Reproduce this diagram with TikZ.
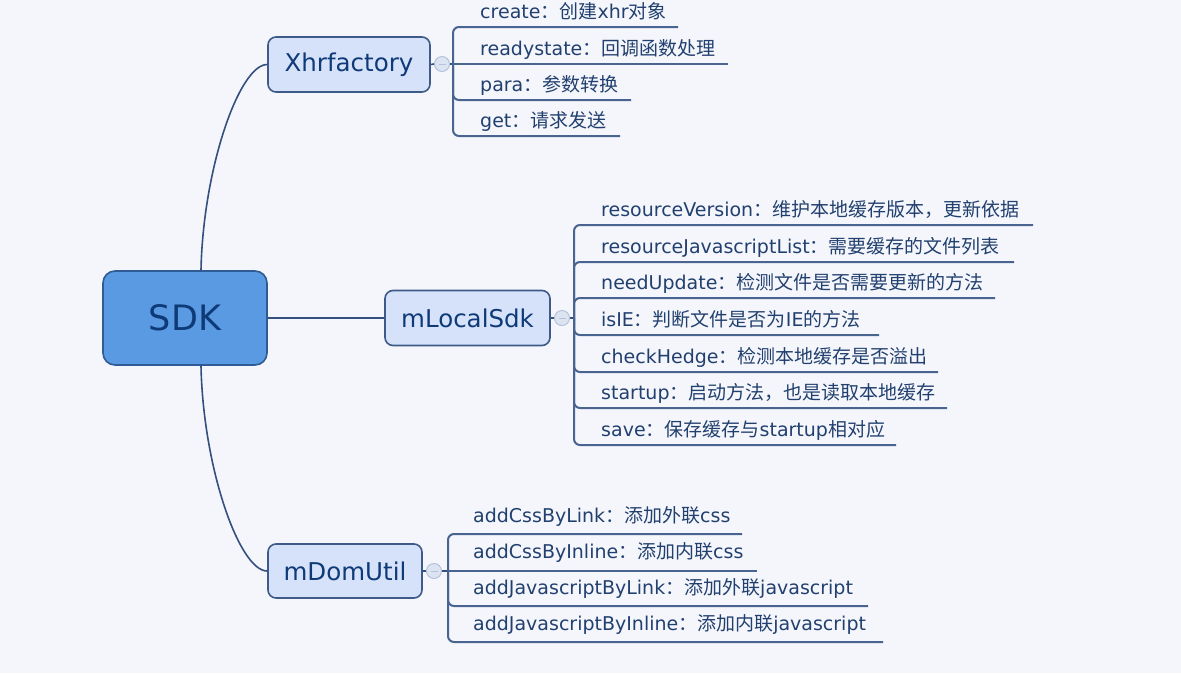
\documentclass[tikz,border=0pt]{standalone}
\usepackage{fontspec}
\setmainfont{DejaVu Sans}
\newfontfamily\cjk{Noto Sans CJK SC}
\newcommand\zh[1]{{\cjk #1}}
\definecolor{bg}{HTML}{F4F6FB}
\definecolor{rootfill}{HTML}{5A9AE2}
\definecolor{rootline}{HTML}{2F5C94}
\definecolor{roottext}{HTML}{0E3A78}
\definecolor{topicfill}{HTML}{D6E2F9}
\definecolor{topicline}{HTML}{3D5A88}
\definecolor{leaftext}{HTML}{22406F}
\definecolor{branchline}{HTML}{4A6491}
\definecolor{trunkline}{HTML}{34507E}
\definecolor{foldfill}{HTML}{DCE4F2}
\definecolor{foldline}{HTML}{B5C3DC}
\begin{document}
\begin{tikzpicture}[x=1pt,y=-1pt,
  every node/.style={inner sep=0pt},
  root/.style={draw=rootline, fill=rootfill, line width=1.6pt, rounded corners=12pt, minimum width=164pt, minimum height=94pt, font=\fontsize{35}{40}\selectfont, text=roottext},
  topic/.style={draw=topicline, fill=topicfill, line width=1.6pt, rounded corners=8pt, minimum height=55pt, font=\fontsize{24.5}{28}\selectfont, text=roottext},
  leaf/.style={anchor=base west, font=\fontsize{19}{22}\selectfont, text=leaftext},
  fold/.style={circle, draw=foldline, fill=foldfill, line width=1pt, minimum size=15pt},
  foldmark/.style={draw=foldline, line width=1pt},
  branch/.style={draw=branchline, line width=2pt, rounded corners=6pt},
  trunk/.style={draw=trunkline, line width=1.6pt},
]
\fill[bg] (0,0) rectangle (1181,673);
\useasboundingbox (0,0) rectangle (1181,673);

% main nodes
\node[root] (sdk) at (185,318) {SDK};
\node[topic, minimum width=162pt] (xhr) at (349,64.5) {Xhrfactory};
\node[topic, minimum width=165pt] (loc) at (467.5,318) {mLocalSdk};
\node[topic, minimum width=154pt, minimum height=54pt] (dom) at (345,571) {mDomUtil};

% trunk connectors
\draw[trunk] ([xshift=16pt]sdk.north) .. controls +(2,-101) and +(-28,0) .. (xhr.west);
\draw[trunk] ([xshift=16pt]sdk.south) .. controls +(2,101) and +(-28,0) .. (dom.west);
\draw[trunk] (sdk.east) -- (loc.west);

% fold circles
\node[fold] (xhrc) at (442,64) {};
\node[fold] (locc) at (562,318) {};
\node[fold] (domc) at (434,571) {};
\foreach \c in {xhrc,locc,domc}{
  \draw[foldmark] ([xshift=-3.5pt]\c.center) -- ([xshift=3.5pt]\c.center);
}
\draw[trunk] (xhr.east) -- (xhrc.west);
\draw[trunk] (loc.east) -- (locc.west);
\draw[trunk] (dom.east) -- (domc.west);

% junctions
\coordinate (xj) at (453,64);
\coordinate (lj) at (574,318);
\coordinate (dj) at (448,571);
\draw[trunk] (xhrc.east) -- (xj);
\draw[trunk] (locc.east) -- (lj);
\draw[trunk] (domc.east) -- (dj);

% Xhrfactory children
\coordinate (x1) at (678,27);
\coordinate (x2) at (728,64);
\coordinate (x3) at (631,100);
\coordinate (x4) at (620,136);
\draw[branch] (xj) |- (x1);
\draw[branch] (xj) -- (x2);
\draw[branch] (xj) |- (x3);
\draw[branch] (xj) |- (x4);
\node[leaf] (x1t) at (480,18) {create\zh{：创建}xhr\zh{对象}};
\node[leaf] (x2t) at (480,55) {readystate\zh{：回调函数处理}};
\node[leaf] (x3t) at (480,91) {para\zh{：参数转换}};
\node[leaf] (x4t) at (480,127) {get\zh{：请求发送}};

% mLocalSdk children
\coordinate (l1) at (1033,225);
\coordinate (l2) at (1014,262);
\coordinate (l3) at (995,298);
\coordinate (l4) at (879,335);
\coordinate (l5) at (938,372);
\coordinate (l6) at (947,408);
\coordinate (l7) at (896,445);
\foreach \n in {l1,l2,l3,l4,l5,l6,l7}{
  \draw[branch] (lj) |- (\n);
}
\node[leaf] (l1t) at (601,216) {resourceVersion\zh{：维护本地缓存版本，更新依据}};
\node[leaf] (l2t) at (601,253) {resourceJavascriptList\zh{：需要缓存的文件列表}};
\node[leaf] (l3t) at (601,289) {needUpdate\zh{：检测文件是否需要更新的方法}};
\node[leaf] (l4t) at (601,326) {isIE\zh{：判断文件是否为}IE\zh{的方法}};
\node[leaf] (l5t) at (601,363) {checkHedge\zh{：检测本地缓存是否溢出}};
\node[leaf] (l6t) at (601,399) {startup\zh{：启动方法，也是读取本地缓存}};
\node[leaf] (l7t) at (601,436) {save\zh{：保存缓存与}startup\zh{相对应}};

% mDomUtil children
\coordinate (d1) at (742,534);
\coordinate (d2) at (757,571);
\coordinate (d3) at (868,606);
\coordinate (d4) at (883,642);
\draw[branch] (dj) |- (d1);
\draw[branch] (dj) -- (d2);
\draw[branch] (dj) |- (d3);
\draw[branch] (dj) |- (d4);
\node[leaf] (d1t) at (473,522) {addCssByLink\zh{：添加外联}css};
\node[leaf] (d2t) at (473,558) {addCssByInline\zh{：添加内联}css};
\node[leaf] (d3t) at (473,594) {addJavascriptByLink\zh{：添加外联}javascript};
\node[leaf] (d4t) at (473,630) {addJavascriptByInline\zh{：添加内联}javascript};
\end{tikzpicture}
\end{document}
